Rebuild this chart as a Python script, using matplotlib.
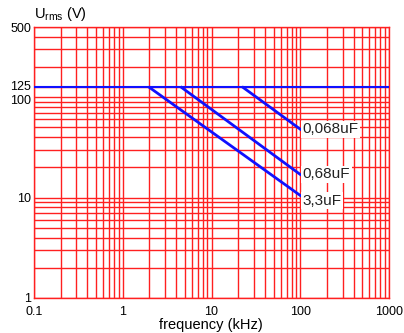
import numpy as np
import matplotlib
matplotlib.use("Agg")
import matplotlib.pyplot as plt
import matplotlib.transforms as mtransforms

# rated voltage line and derating curves (kHz, Vrms)
v_rated = 125
caps = ['0,068uF', '0,68uF', '3,3uF']
f_start = [22.7, 4.6, 2.0]
f_end = [100, 100, 100]
v_end = [48, 17, 10.5]
label_y = [48, 17, 9.3]

x_ticks = [0.1, 1, 10, 100, 1000]
x_ticklabels = ['0.1', '1', '10', '100', '1000']
y_ticks = [1, 10, 100, 125, 500]
y_ticklabels = ['1', '10', '100', '125', '500']

red = '#ff2020'
blue = '#1010ff'

plt.rcParams['font.family'] = ['Liberation Sans', 'DejaVu Sans']
plt.rcParams['mathtext.fontset'] = 'custom'
plt.rcParams['mathtext.rm'] = 'Liberation Sans'

fig = plt.figure(figsize=(4.04, 3.33), dpi=100)
ax = fig.add_axes([34/404, 35/333, 355/404, 271/333])
ax.set_xscale('log')
ax.set_yscale('log')
ax.set_xlim(0.1, 1000)
ax.set_ylim(1, 500)

# red grid, every major and minor line
ax.grid(True, which='both', color=red, linewidth=1.0)
for s in ax.spines.values():
    s.set_color(red)
    s.set_linewidth(1.0)

ax.set_xticks(x_ticks)
ax.set_xticklabels(x_ticklabels)
ax.set_yticks(y_ticks)
ax.set_yticklabels(y_ticklabels)
ax.tick_params(which='both', length=0, labelsize=9, pad=2)
ax.tick_params(axis='x', pad=6)

# 100 and 125 sit close together: push them apart a little
for lab in ax.get_yticklabels():
    if lab.get_text() == '125':
        lab.set_transform(lab.get_transform() + mtransforms.ScaledTranslation(0, 2/100, fig.dpi_scale_trans))
    if lab.get_text() == '100':
        lab.set_transform(lab.get_transform() + mtransforms.ScaledTranslation(0, -2/100, fig.dpi_scale_trans))

ax.axhline(v_rated, color=blue, linewidth=1.5, zorder=3)

for name, f0, f1, v1, ly in zip(caps, f_start, f_end, v_end, label_y):
    ax.plot([f0, f1], [v_rated, v1], color=blue, linewidth=2, zorder=3)
    ax.text(f1 * 1.07, ly, name, fontsize=11, color='#222222', va='center', ha='left',
            bbox=dict(facecolor='white', edgecolor='none', pad=1), zorder=4)

fig.text(34/404, 1 - 14/333, r'U$_{\rm rms}$ (V)', fontsize=10.5, ha='left', va='center')
fig.text(211/404, 1 - 325/333, 'frequency (kHz)', fontsize=10.5, ha='center', va='center')

plt.savefig('out.png', dpi=100)
